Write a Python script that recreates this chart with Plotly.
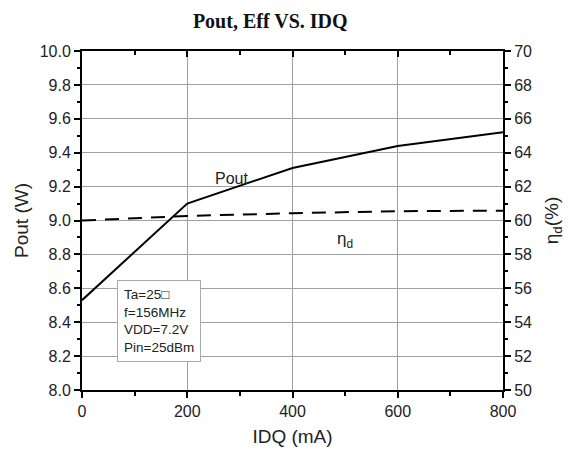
import plotly.graph_objects as go

idq = [0, 200, 400, 600, 800]
pout = [8.53, 9.10, 9.31, 9.44, 9.52]
eff = [60.0, 60.27, 60.43, 60.55, 60.58]

x_ticks = [0, 200, 400, 600, 800]
y_ticks = [8.0, 8.2, 8.4, 8.6, 8.8, 9.0, 9.2, 9.4, 9.6, 9.8, 10.0]
y2_ticks = [50, 52, 54, 56, 58, 60, 62, 64, 66, 68, 70]

FONT = "Liberation Sans, Arial, sans-serif"
TC = "#222222"

fig = go.Figure()
fig.add_trace(go.Scatter(x=idq, y=pout, mode="lines", line=dict(color="black", width=2),
                         showlegend=False, xaxis="x", yaxis="y"))
fig.add_trace(go.Scatter(x=idq, y=eff, mode="lines", line=dict(color="black", width=2, dash="14px,9px"),
                         showlegend=False, xaxis="x", yaxis="y2"))
# invisible trace for top mirror axis
fig.add_trace(go.Scatter(x=[0], y=[8.0], mode="markers", marker=dict(opacity=0),
                         showlegend=False, hoverinfo="skip", xaxis="x3", yaxis="y"))

axis_common = dict(showline=True, linecolor="black", linewidth=2,
                   tickfont=dict(family=FONT, size=16, color=TC), tickcolor="black",
                   zeroline=False)

fig.update_layout(
    width=577, height=455,
    margin=dict(l=82, r=74, t=51, b=65),
    paper_bgcolor="white", plot_bgcolor="white",
    title=dict(text="<b>Pout, Eff VS. IDQ</b>", x=258 / 577, xanchor="center", xref="paper",
               y=1 - 21 / 455, yanchor="middle",
               font=dict(family="Liberation Serif, Times New Roman, serif", size=20, color="#111")),
    xaxis=dict(range=[0, 800], tickvals=x_ticks, ticks="outside", ticklen=6, tickwidth=2,
               showgrid=True, gridcolor="#a0a0a0", gridwidth=1,
               minor=dict(ticks="outside", ticklen=4, tickwidth=2, dtick=100, tick0=0, showgrid=False,
                          tickcolor="black"),
               title=dict(text="IDQ (mA)", font=dict(family=FONT, size=19, color=TC), standoff=10),
               **axis_common),
    xaxis3=dict(range=[0, 800], overlaying="x", side="top", anchor="y", tickvals=x_ticks,
                ticks="inside", ticklen=6, tickwidth=2, showticklabels=False, showgrid=False,
                minor=dict(ticks="inside", ticklen=4, tickwidth=2, dtick=100, tick0=0, tickcolor="black"),
                **axis_common),
    yaxis=dict(range=[8.0, 10.0], tickvals=y_ticks, ticktext=[f"{v:.1f}" for v in y_ticks],
               ticks="outside", ticklen=6, tickwidth=2,
               showgrid=True, gridcolor="#a0a0a0", gridwidth=1,
               minor=dict(ticks="outside", ticklen=3, tickwidth=2, dtick=0.1, tick0=8.0, showgrid=False,
                          tickcolor="black"),
               title=dict(text="Pout (W)", font=dict(family=FONT, size=19, color=TC), standoff=6),
               **axis_common),
    yaxis2=dict(range=[50, 70], tickvals=y2_ticks, overlaying="y", side="right", anchor="x",
                ticks="outside", ticklen=6, tickwidth=2, showgrid=False,
                minor=dict(ticks="outside", ticklen=3, tickwidth=2, dtick=1, tick0=50, tickcolor="black"),
                title=dict(text="η<sub>d</sub>(%)", font=dict(family=FONT, size=19, color=TC), standoff=14),
                **axis_common),
)

fig.add_annotation(x=284, y=9.25, xref="x", yref="y", text="Pout", showarrow=False,
                   font=dict(family=FONT, size=16, color=TC))
fig.add_annotation(x=499, y=58.85, xref="x", yref="y2", text="η<sub>d</sub>", showarrow=False,
                   font=dict(family=FONT, size=17, color=TC))
fig.add_annotation(x=67, y=8.41, xref="x", yref="y",
                   text="Ta=25□<br>f=156MHz<br>VDD=7.2V<br>Pin=25dBm",
                   showarrow=False, align="left", xanchor="left", yanchor="middle",
                   bgcolor="white", bordercolor="#aaaaaa", borderwidth=1, borderpad=6,
                   font=dict(family=FONT, size=13.5, color=TC))

fig.write_html("out.html")
